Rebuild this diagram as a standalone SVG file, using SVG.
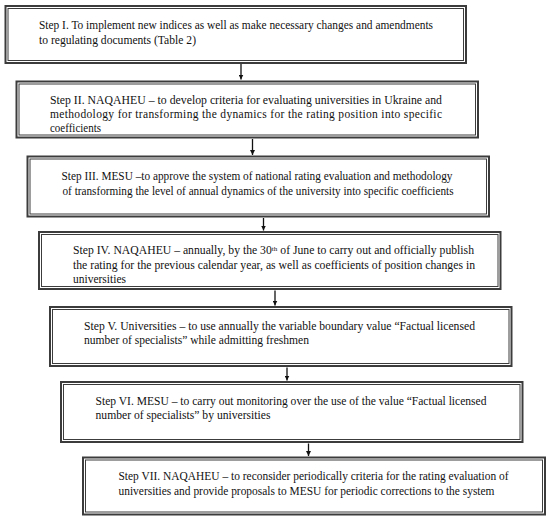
<svg xmlns="http://www.w3.org/2000/svg" width="550" height="518" viewBox="0 0 550 518">
<style>
.outer{fill:#fff;stroke:#3c3c3c;stroke-width:2}
.inner{fill:none;stroke:#3c3c3c;stroke-width:1}
.t{font-family:'Liberation Serif','DejaVu Serif',serif;font-size:11.5px;fill:#111}
.c{stroke:#111;stroke-width:1.3;fill:none}
</style>
<defs>
<marker id="ah" viewBox="0 0 10 10" refX="10" refY="5" markerWidth="5" markerHeight="5" markerUnits="userSpaceOnUse" orient="auto">
<path d="M0,0 L10,5 L0,10 z" fill="#111"/>
</marker>
</defs>
<rect width="550" height="518" fill="#fff"/>
<g id="connectors">
<line class="c" x1="241" y1="64" x2="241" y2="79.5" marker-end="url(#ah)"/>
<line class="c" x1="252.5" y1="139" x2="252.5" y2="155" marker-end="url(#ah)"/>
<line class="c" x1="263.5" y1="218" x2="263.5" y2="230.5" marker-end="url(#ah)"/>
<line class="c" x1="275" y1="290.5" x2="275" y2="305.5" marker-end="url(#ah)"/>
<line class="c" x1="287" y1="367.5" x2="287" y2="380.5" marker-end="url(#ah)"/>
<line class="c" x1="308.5" y1="443.5" x2="308.5" y2="456" marker-end="url(#ah)"/>
</g>
<g id="step1">
<rect class="outer" x="5.5" y="6" width="460.5" height="57"/>
<rect class="inner" x="8" y="8.5" width="455.5" height="52"/>
<text class="t" x="39" y="28.5" textLength="394" lengthAdjust="spacingAndGlyphs">Step I. To implement new indices as well as make necessary changes and amendments</text>
<text class="t" x="39" y="43.5" textLength="157" lengthAdjust="spacingAndGlyphs">to regulating documents (Table 2)</text>
</g>
<g id="step2">
<rect class="outer" x="16.5" y="81.5" width="461.5" height="56"/>
<rect class="inner" x="19" y="84" width="456.5" height="51"/>
<text class="t" x="50" y="103.5" textLength="392" lengthAdjust="spacingAndGlyphs">Step II. NAQAHEU – to develop criteria for evaluating universities in Ukraine and</text>
<text class="t" x="50" y="117.5" textLength="392" lengthAdjust="spacing">methodology for transforming the dynamics for the rating position into specific</text>
<text class="t" x="50" y="131.5" textLength="51" lengthAdjust="spacingAndGlyphs">coefficients</text>
</g>
<g id="step3">
<rect class="outer" x="27.5" y="156.5" width="461.5" height="60"/>
<rect class="inner" x="30" y="159" width="456.5" height="55"/>
<text class="t" x="61.5" y="179.5" textLength="391" lengthAdjust="spacingAndGlyphs">Step III. MESU –to approve the system of national rating evaluation and methodology</text>
<text class="t" x="62.5" y="194.5" textLength="391" lengthAdjust="spacingAndGlyphs">of transforming the level of annual dynamics of the university into specific coefficients</text>
</g>
<g id="step4">
<rect class="outer" x="39" y="232" width="461.5" height="57"/>
<rect class="inner" x="41.5" y="234.5" width="456.5" height="52"/>
<text class="t" x="73" y="254" textLength="401" lengthAdjust="spacingAndGlyphs">Step IV. NAQAHEU – annually, by the 30<tspan font-size="7" dy="-3.5">th</tspan><tspan dy="3.5"> of June to carry out and officially publish</tspan></text>
<text class="t" x="73" y="268.5" textLength="402" lengthAdjust="spacingAndGlyphs">the rating for the previous calendar year, as well as coefficients of position changes in</text>
<text class="t" x="73" y="283" textLength="53" lengthAdjust="spacingAndGlyphs">universities</text>
</g>
<g id="step5">
<rect class="outer" x="50" y="307" width="461.5" height="59"/>
<rect class="inner" x="52.5" y="309.5" width="456.5" height="54"/>
<text class="t" x="84" y="329.5" textLength="391" lengthAdjust="spacingAndGlyphs">Step V.  Universities – to use annually the variable boundary value “Factual licensed</text>
<text class="t" x="84" y="344" textLength="225" lengthAdjust="spacingAndGlyphs">number of specialists” while admitting freshmen</text>
</g>
<g id="step6">
<rect class="outer" x="61" y="382" width="461.5" height="60"/>
<rect class="inner" x="63.5" y="384.5" width="456.5" height="55"/>
<text class="t" x="95.5" y="404.5" textLength="391" lengthAdjust="spacingAndGlyphs">Step VI.  MESU – to carry out monitoring over the use of the value “Factual licensed</text>
<text class="t" x="95.5" y="419" textLength="175" lengthAdjust="spacingAndGlyphs">number of specialists” by universities</text>
</g>
<g id="step7">
<rect class="outer" x="83" y="457.5" width="462" height="57"/>
<rect class="inner" x="85.5" y="460" width="457" height="52"/>
<text class="t" x="118.5" y="480" textLength="390" lengthAdjust="spacingAndGlyphs">Step VII.  NAQAHEU – to reconsider periodically criteria for the rating evaluation of</text>
<text class="t" x="118.5" y="495" textLength="376" lengthAdjust="spacingAndGlyphs">universities and provide proposals to MESU for periodic corrections to the system</text>
</g>
</svg>
